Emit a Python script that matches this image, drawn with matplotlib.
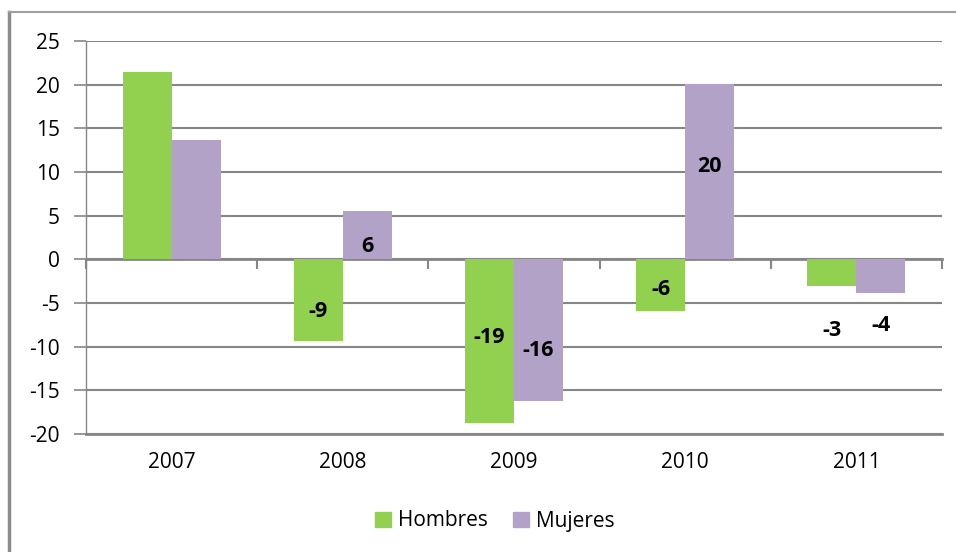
import matplotlib
matplotlib.use("Agg")
import matplotlib.pyplot as plt
import numpy as np
from matplotlib.lines import Line2D
from matplotlib.patches import Patch

years = ["2007", "2008", "2009", "2010", "2011"]
hombres = [21.4, -9.3, -18.7, -5.9, -3.0]
mujeres = [13.7, 5.5, -16.2, 20.1, -3.9]
# etiquetas de datos (texto) y su altura aproximada en el grafico
lab_h = [None, "-9", "-19", "-6", "-3"]
lab_h_y = [None, -6.0, -9.0, -3.4, -8.2]
lab_m = [None, "6", "-16", "20", "-4"]
lab_m_y = [None, 1.5, -10.4, 10.6, -7.6]

green = "#92D050"
purple = "#B3A2C7"
grey = "#868686"

plt.rcParams['font.family'] = ['Open Sans', 'DejaVu Sans']
plt.rcParams['axes.unicode_minus'] = False

fig = plt.figure(figsize=(9.56, 5.52), dpi=100)
ax = fig.add_axes([86/956, 1-434/552, (942-86)/956, (434-41)/552])

x = np.arange(len(years))
w = 0.286
ax.bar(x - w/2, hombres, w, color=green, zorder=3)
ax.bar(x + w/2, mujeres, w, color=purple, zorder=3)

for i in range(len(years)):
    if lab_h[i] is not None:
        ax.text(x[i] - w/2, lab_h_y[i], lab_h[i], ha="center", va="center",
                fontsize=15.5, fontweight="bold", zorder=4)
    if lab_m[i] is not None:
        ax.text(x[i] + w/2, lab_m_y[i], lab_m[i], ha="center", va="center",
                fontsize=15.5, fontweight="bold", zorder=4)

ymin, ymax = -20, 25
ax.set_ylim(ymin, ymax)
ax.set_xlim(-0.5, len(years) - 0.5)
ax.set_yticks(np.arange(ymin, ymax + 1, 5))
ax.yaxis.grid(True, color=grey, linewidth=1.5, zorder=0)
ax.tick_params(axis="y", length=9, width=1.2, color=grey, pad=10, labelsize=15)
ax.set_xticks(x)
ax.set_xticklabels(years)
ax.tick_params(axis="x", length=0, pad=13, labelsize=15)

for s in ["top", "right"]:
    ax.spines[s].set_visible(False)
ax.spines["bottom"].set_color(grey)
ax.spines["bottom"].set_linewidth(2)
ax.spines["left"].set_color(grey)
ax.spines["left"].set_linewidth(1)

# eje de categorias en el cero, con marcas entre categorias
sec = ax.secondary_xaxis((0 - ymin) / (ymax - ymin))
sec.set_xticks(np.arange(len(years) + 1) - 0.5)
sec.set_xticklabels([])
sec.tick_params(axis="x", length=7, width=1.5, color=grey)
sec.spines["bottom"].set_color(grey)
sec.spines["bottom"].set_linewidth(2)

# marco del grafico
fig.add_artist(Line2D([9/956, 9/956], [0, 1-12/552], color="#8c8c8c", lw=2.5,
                      transform=fig.transFigure))
fig.add_artist(Line2D([9/956, 1], [1-12/552, 1-12/552], color="#a0a0a0", lw=1.5,
                      transform=fig.transFigure))

handles = [Patch(color=green, label="Hombres"), Patch(color=purple, label="Mujeres")]
fig.legend(handles=handles, loc="center", bbox_to_anchor=(495/956, 1-521/552),
           ncol=2, frameon=False, fontsize=15, handlelength=0.75, handleheight=0.75,
           handletextpad=0.35, columnspacing=1.2)

fig.savefig("out.png", dpi=100)
